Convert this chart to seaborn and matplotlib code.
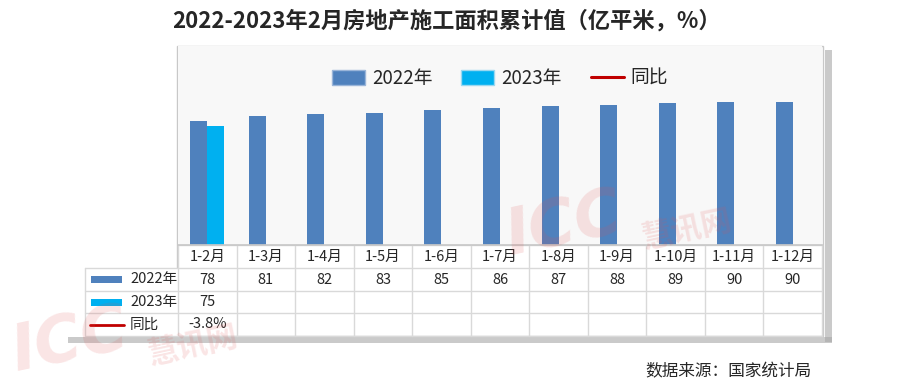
import matplotlib
matplotlib.use('Agg')
import matplotlib.pyplot as plt
import pandas as pd
import seaborn as sns
from matplotlib.patches import Patch, Rectangle
from matplotlib.lines import Line2D

sns.set_theme(style="white")
plt.rcParams['font.family'] = ['Noto Sans CJK SC', 'DejaVu Sans']

# ---- data ----
months = ["1-2月", "1-3月", "1-4月", "1-5月", "1-6月", "1-7月",
          "1-8月", "1-9月", "1-10月", "1-11月", "1-12月"]
v2022 = [78, 81, 82, 83, 85, 86, 87, 88, 89, 90, 90]
v2023 = [75]
yoy = ["-3.8%"]
series_names = ["2022年", "2023年", "同比"]
title = "2022-2023年2月房地产施工面积累计值（亿平米，%）"
source = "数据来源：国家统计局"

c2022, c2023, cline = "#4F81BD", "#00B0F0", "#C00000"
grid_c = "#d9d9d9"

rows = []
for i, m in enumerate(months):
    rows.append({"month": m, "year": "2022年", "value": v2022[i]})
    rows.append({"month": m, "year": "2023年",
                 "value": v2023[i] if i < len(v2023) else float("nan")})
df = pd.DataFrame(rows)

W, H = 900, 387
fig = plt.figure(figsize=(9, 3.87), dpi=100)
fig.patch.set_facecolor("white")

# canvas axes in pixel coordinates (y downward)
cv = fig.add_axes([0, 0, 1, 1])
cv.set_xlim(0, W)
cv.set_ylim(H, 0)
cv.axis("off")

# plot geometry (px)
px0, px1 = 178, 822
py0, py1 = 46, 245
ncol = len(months)
cw = (px1 - px0) / ncol

# shadow + frame
cv.add_patch(Rectangle((px1 + 3, py0 + 4), 7, 336 - py0 + 2, color="#a8a8a8", alpha=0.6, lw=0))
cv.add_patch(Rectangle((68, 337), px1 - 68 + 10, 6, color="#a8a8a8", alpha=0.6, lw=0))
cv.add_patch(Rectangle((px0 - 1, py0), px1 - px0 + 2, 336 - py0, facecolor="white",
                       edgecolor="#c8c8c8", lw=1))
cv.add_patch(Rectangle((85, 268), px0 - 85, 68, facecolor="white", edgecolor="none"))

# bar axes
ax = fig.add_axes([px0 / W, (H - py1) / H, (px1 - px0) / W, (py1 - py0) / H])
ax.set_facecolor("#f8f8f8")
sns.barplot(data=df, x="month", y="value", hue="year",
            palette={"2022年": c2022, "2023年": c2023},
            width=0.58, saturation=1, dodge=True, legend=False,
            linewidth=0, edgecolor="none", ax=ax)
ax.set_ylim(0, 125)
ax.set_xlim(-0.5, ncol - 0.5)
ax.set_xticks([])
ax.set_yticks([])
ax.set_xlabel("")
ax.set_ylabel("")
for sp in ax.spines.values():
    sp.set_visible(False)
ax.spines["bottom"].set_visible(True)
ax.spines["bottom"].set_color("#c8c8c8")

handles = [Patch(facecolor=c2022, edgecolor="#9ab5d9"),
           Patch(facecolor=c2023, edgecolor="#9ad8f0"),
           Line2D([0], [0], color=cline, lw=2.2)]
ax.legend(handles, series_names, loc="upper center", bbox_to_anchor=(0.5, 0.975),
          ncol=3, frameon=False, fontsize=13.5, handlelength=1.76, handleheight=0.8,
          columnspacing=1.55, handletextpad=0.37)

# ---- table ----
row_y = [245, 268, 291, 313, 336]
cv.plot([px0, px1], [row_y[0], row_y[0]], color=grid_c, lw=1)
for y in row_y[1:]:
    cv.plot([85, px1], [y, y], color=grid_c, lw=1)
cv.plot([85, 85], [row_y[1], row_y[-1]], color=grid_c, lw=1)
for i in range(ncol + 1):
    x = px0 + i * cw
    cv.plot([x, x], [row_y[0], row_y[-1]], color=grid_c, lw=1)

fs = 10.5
for i, m in enumerate(months):
    xc = px0 + (i + 0.5) * cw
    cv.text(xc, (row_y[0] + row_y[1]) / 2, m, ha="center", va="center", fontsize=fs)
    cv.text(xc, (row_y[1] + row_y[2]) / 2, str(v2022[i]), ha="center", va="center", fontsize=fs)
    if i < len(v2023):
        cv.text(xc, (row_y[2] + row_y[3]) / 2, str(v2023[i]), ha="center", va="center", fontsize=fs)
    if i < len(yoy):
        cv.text(xc, (row_y[3] + row_y[4]) / 2, yoy[i], ha="center", va="center", fontsize=fs)

for r, (name, col) in enumerate(zip(series_names, [c2022, c2023, cline])):
    yc = (row_y[r + 1] + row_y[r + 2]) / 2
    if r < 2:
        cv.add_patch(Rectangle((91, yc - 3.5), 31, 7, facecolor=col, lw=0))
    else:
        cv.plot([90, 124], [yc, yc], color=col, lw=2)
    cv.text(130, yc, name, ha="left", va="center", fontsize=fs)

# title and source
cv.text(446, 21, title, ha="center", va="center", fontsize=16, fontweight="bold")
cv.text(812, 372, source, ha="right", va="center", fontsize=12)

# watermark overlay on top of everything
ov = fig.add_axes([0, 0, 1, 1])
ov.set_xlim(0, W)
ov.set_ylim(H, 0)
ov.axis("off")
ov.patch.set_alpha(0)
for (x, y) in [(500, 268), (6, 384)]:
    ov.text(x, y, "ICC", fontsize=46, fontweight="bold", style="italic",
            color="#e05050", alpha=0.15, rotation=12, ha="left", va="bottom",
            family=["DejaVu Sans"])
    ov.text(x + 138, y - 14, "慧讯网", fontsize=22, fontweight="bold",
            color="#e05050", alpha=0.15, rotation=12, ha="left", va="bottom")

fig.savefig("out.png", dpi=100)
